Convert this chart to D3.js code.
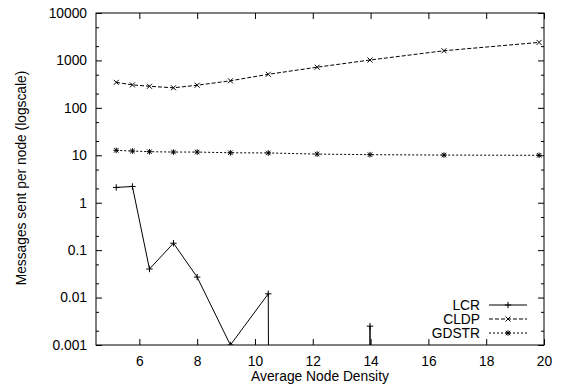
<!DOCTYPE html>
<html>
<head>
<meta charset="utf-8">
<script src="https://cdn.jsdelivr.net/npm/d3@7"></script>
<style>
  html, body { margin: 0; padding: 0; background: #fff; }
  svg { display: block; }
  text { font-family: "Liberation Sans", Arial, Helvetica, sans-serif; fill: #000; }
</style>
</head>
<body>
<div id="chart"></div>
<script>
// ---- data ----
const density = [5.2, 5.76, 6.35, 7.18, 8.0, 9.15, 10.46, 12.15, 13.98, 16.54, 19.83];
const lcr   = [2.1, 2.2, 0.04, 0.14, 0.027, 0.001, 0.012, 0, 0.0025, 0, 0];
const cldp  = [345, 305, 285, 265, 300, 372, 510, 720, 1020, 1600, 2400];
const gdstr = [12.7, 12.3, 11.9, 11.7, 11.7, 11.3, 11.2, 10.6, 10.3, 10.1, 10.0];
const seriesNames = ["LCR", "CLDP", "GDSTR"];
const xTicks = [6, 8, 10, 12, 14, 16, 18, 20];
const yTicks = [0.001, 0.01, 0.1, 1, 10, 100, 1000, 10000];
const yTickLabels = ["0.001", "0.01", "0.1", "1", "10", "100", "1000", "10000"];
const xLabel = "Average Node Density";
const yLabel = "Messages sent per node (logscale)";

// ---- layout ----
const W = 561, H = 389;
const L = 96, R = 544, T = 13, B = 345;
const FONT = 13.8;

const svg = d3.select("#chart").append("svg").attr("width", W).attr("height", H);

const x = d3.scaleLinear().domain([4.5, 20]).range([L, R]);
const y = d3.scaleLog().domain([0.001, 10000]).range([B, T]);
// zero on a log axis: map to a vanishingly small value (far below the frame, clipped)
const yv = v => y(v > 0 ? v : 1e-300);

svg.append("defs").append("clipPath").attr("id", "clip")
  .append("rect").attr("x", L).attr("y", T).attr("width", R - L).attr("height", B - T);

// minor tick values (2 and 5 per decade)
const minor = [];
for (let e = -3; e < 4; e++) { [2, 5].forEach(m => minor.push(m * Math.pow(10, e))); }

function styleAxis(g) {
  g.select(".domain").remove();
  g.selectAll("line").attr("stroke", "#000").attr("stroke-width", 1);
  g.selectAll("text").style("font-size", FONT + "px").attr("font-family", null);
}

// bottom axis
svg.append("g").attr("transform", `translate(0,${B})`)
  .call(d3.axisBottom(x).tickValues(xTicks).tickFormat(d3.format("d")).tickSize(-6).tickPadding(11))
  .call(styleAxis);
// top axis
svg.append("g").attr("transform", `translate(0,${T})`)
  .call(d3.axisTop(x).tickValues(xTicks).tickFormat("").tickSize(-6))
  .call(styleAxis);
// left axis
svg.append("g").attr("transform", `translate(${L},0)`)
  .call(d3.axisLeft(y).tickValues(yTicks).tickFormat((d, i) => yTickLabels[i]).tickSize(-6).tickPadding(9))
  .call(styleAxis);
svg.append("g").attr("transform", `translate(${L},0)`)
  .call(d3.axisLeft(y).tickValues(minor).tickFormat("").tickSize(-3))
  .call(styleAxis);
// right axis
svg.append("g").attr("transform", `translate(${R},0)`)
  .call(d3.axisRight(y).tickValues(yTicks).tickFormat("").tickSize(-6))
  .call(styleAxis);
svg.append("g").attr("transform", `translate(${R},0)`)
  .call(d3.axisRight(y).tickValues(minor).tickFormat("").tickSize(-3))
  .call(styleAxis);

// frame
svg.append("rect").attr("x", L).attr("y", T).attr("width", R - L).attr("height", B - T)
  .attr("fill", "none").attr("stroke", "#000").attr("stroke-width", 1);

// axis labels
svg.append("text").attr("x", (L + R) / 2).attr("y", 381).attr("text-anchor", "middle")
  .style("font-size", FONT + "px").text(xLabel);
svg.append("text").attr("transform", `translate(26,${(T + B) / 2 - 1}) rotate(-90)`)
  .attr("text-anchor", "middle").style("font-size", FONT + "px").text(yLabel);

// markers
const markers = {
  plus: s => `M${-s},0H${s}M0,${-s}V${s}`,
  cross: s => `M${-s},${-s}L${s},${s}M${-s},${s}L${s},${-s}`,
  star: s => `M${-s},0H${s}M0,${-s}V${s}M${-s*0.8},${-s*0.8}L${s*0.8},${s*0.8}M${-s*0.8},${s*0.8}L${s*0.8},${-s*0.8}`
};

const series = [
  { name: seriesNames[0], values: lcr,   dash: null,  marker: "plus",  size: 3.2 },
  { name: seriesNames[1], values: cldp,  dash: "4,2", marker: "cross", size: 2.5 },
  { name: seriesNames[2], values: gdstr, dash: "2,2", marker: "star",  size: 2.8 }
];

const plot = svg.append("g").attr("clip-path", "url(#clip)");
const line = d3.line().x(d => x(d[0])).y(d => yv(d[1]));

series.forEach(s => {
  const pts = density.map((d, i) => [d, s.values[i]]);
  plot.append("path").datum(pts).attr("d", line)
    .attr("fill", "none").attr("stroke", "#000").attr("stroke-width", 1)
    .attr("stroke-dasharray", s.dash);
  plot.selectAll(null).data(pts.filter(p => p[1] > 0)).enter().append("path")
    .attr("transform", p => `translate(${x(p[0])},${yv(p[1])})`)
    .attr("d", markers[s.marker](s.size))
    .attr("fill", "none").attr("stroke", "#000").attr("stroke-width", 1);
});

// legend
const lg = svg.append("g");
series.forEach((s, i) => {
  const cy = 305 + i * 14;
  lg.append("text").attr("x", 480).attr("y", cy).attr("dy", "0.35em")
    .attr("text-anchor", "end").style("font-size", FONT + "px").text(s.name);
  lg.append("line").attr("x1", 489).attr("x2", 527).attr("y1", cy).attr("y2", cy)
    .attr("stroke", "#000").attr("stroke-width", 1).attr("stroke-dasharray", s.dash);
  lg.append("path").attr("transform", `translate(508,${cy})`)
    .attr("d", markers[s.marker](s.size))
    .attr("fill", "none").attr("stroke", "#000").attr("stroke-width", 1);
});
</script>
</body>
</html>
